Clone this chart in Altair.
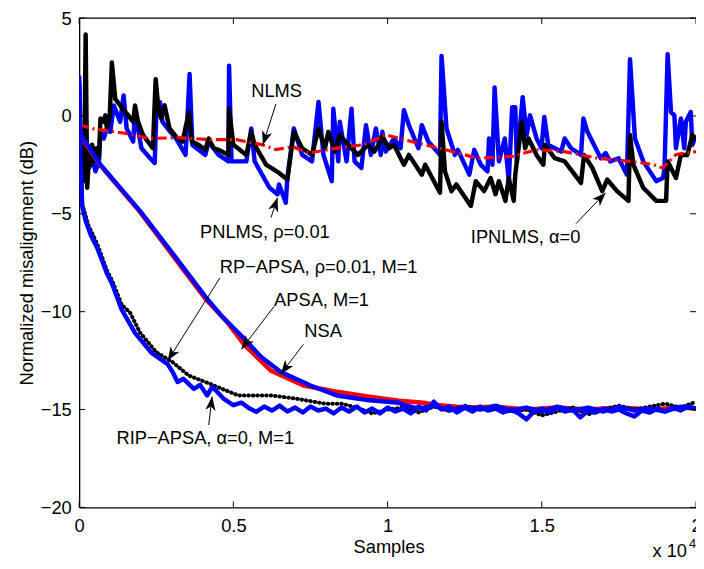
import math
import altair as alt
import pandas as pd

FONT = "Liberation Sans"
X_TICKS = [0, 0.5, 1, 1.5, 2]
Y_TICKS = [5, 0, -5, -10, -15, -20]

# (samples x 1e4, dB)
NLMS = [(0, -0.45), (0.048, -0.66), (0.159, -0.91), (0.229, -1.15), (0.319, -1.11), (0.431, -1.21),
        (0.510, -1.21), (0.595, -1.48), (0.638, -1.72), (0.692, -1.57), (0.743, -1.9), (0.845, -1.62),
        (0.925, -1.46), (0.994, -0.96), (1.078, -1.31), (1.186, -1.72), (1.292, -2.16), (1.404, -2.07),
        (1.483, -1.72), (1.573, -1.82), (1.680, -2.16), (1.786, -2.32), (1.860, -2.47), (1.892, -2.66),
        (1.935, -1.97), (2.0, -1.82)]

PNLMS = [(0, 2.06), (0.005, -1.82), (0.011, -2.83), (0.021, -2.32), (0.032, -2.66), (0.042, -2.16),
         (0.053, -2.83), (0.064, -2.32), (0.069, -0.81), (0.080, -1.15), (0.090, -0.64), (0.101, -0.81),
         (0.112, 0.54), (0.133, -0.3), (0.144, 1.05), (0.154, -0.64), (0.175, -1.31), (0.181, 0.2),
         (0.202, -1.65), (0.239, -2.32), (0.245, -2.4), (0.250, 0.1), (0.262, 0.71), (0.270, -0.3),
         (0.287, -0.64), (0.314, -1.15), (0.345, -1.99), (0.358, 2.14), (0.367, -1.48), (0.409, -1.99),
         (0.420, -1.31), (0.452, -1.99), (0.484, -2.32), (0.486, 2.56), (0.494, -2.32), (0.542, -2.32),
         (0.558, -0.64), (0.569, -2.32), (0.617, -3.67), (0.643, -4.0), (0.648, -3.5), (0.670, -4.43),
         (0.675, -3.17), (0.696, -0.64), (0.723, -1.99), (0.755, -2.32), (0.776, 0.71), (0.792, -1.99),
         (0.819, -3.33), (0.824, 0.37), (0.840, -2.32), (0.845, -0.3), (0.867, -2.32), (0.883, 0.37),
         (0.893, -2.32), (0.915, -2.66), (0.930, -0.47), (0.946, -1.99), (0.962, -0.64), (0.978, -1.99),
         (0.983, -0.81), (0.994, -1.82), (1.021, -1.15), (1.042, -1.65), (1.053, 0.29), (1.069, -0.47),
         (1.100, -1.65), (1.111, -0.47), (1.132, -1.31), (1.170, -1.99), (1.175, 3.07), (1.191, -0.64),
         (1.218, -1.99), (1.228, -1.73), (1.265, -3.0), (1.281, -1.73), (1.302, -2.49), (1.324, -2.83),
         (1.329, -1.15), (1.340, -2.49), (1.347, 1.46), (1.361, -2.32), (1.380, -1.15), (1.393, -3.33),
         (1.404, 0.45), (1.414, 0.45), (1.419, -2.32), (1.438, 0.96), (1.451, -0.97), (1.462, 0.03),
         (1.483, -1.15), (1.499, -1.65), (1.508, -0.05), (1.521, -1.48), (1.563, -1.82), (1.574, -1.15),
         (1.595, -1.65), (1.627, -1.99), (1.635, -0.13), (1.648, -0.81), (1.691, -2.16), (1.707, -1.9),
         (1.722, -2.32), (1.749, -2.16), (1.776, -3.0), (1.786, 2.9), (1.802, -1.15), (1.829, -2.32),
         (1.871, -3.33), (1.893, -3.17), (1.898, -2.66), (1.908, 3.15), (1.919, 0.2), (1.930, 0.03),
         (1.935, -1.65), (1.951, -0.13), (1.962, -1.65), (1.967, -0.3), (1.983, 0.2), (1.988, -1.48),
         (2.0, -1.0)]

IPNLMS = [(0, -0.45), (0.003, -0.64), (0.006, -4.34), (0.011, -2.0), (0.016, -3.33), (0.021, 4.16),
          (0.026, -3.67), (0.032, -2.0), (0.037, -2.5), (0.042, -1.47), (0.050, -2.3), (0.056, -1.65),
          (0.064, -2.15), (0.069, -0.13), (0.080, -0.3), (0.085, 0.03), (0.090, -0.64), (0.099, -0.05),
          (0.106, 2.73), (0.117, 0.87), (0.133, 0.54), (0.144, 0.29), (0.159, 0.03), (0.175, -0.3),
          (0.181, 0.54), (0.191, -0.3), (0.207, -0.97), (0.223, -1.31), (0.239, -1.65), (0.248, 1.88),
          (0.258, 0.2), (0.266, -0.13), (0.277, 0.54), (0.293, -0.64), (0.314, -1.06), (0.335, -1.31),
          (0.356, 0.2), (0.365, -1.31), (0.388, -1.48), (0.409, -1.73), (0.420, -1.15), (0.436, -1.65),
          (0.452, -1.73), (0.484, -1.99), (0.486, 0.37), (0.500, -1.47), (0.542, -1.99), (0.558, -0.81),
          (0.569, -1.48), (0.606, -2.49), (0.648, -2.91), (0.675, -3.25), (0.680, -2.66), (0.696, -0.81),
          (0.723, -1.65), (0.755, -1.99), (0.776, -0.64), (0.797, -1.65), (0.808, -0.81), (0.829, -1.82),
          (0.845, -0.97), (0.872, -1.48), (0.904, -1.99), (0.936, -1.48), (0.957, -1.82), (0.978, -1.31),
          (0.983, -1.06), (1.005, -1.65), (1.021, -1.48), (1.053, -2.49), (1.069, -1.99), (1.111, -3.0),
          (1.122, -2.49), (1.170, -3.92), (1.175, -0.3), (1.186, -2.83), (1.207, -3.84), (1.223, -3.5),
          (1.270, -4.6), (1.286, -3.33), (1.313, -3.84), (1.334, -3.17), (1.350, -4.0), (1.361, -3.33),
          (1.382, -4.34), (1.393, -3.17), (1.409, -4.34), (1.414, -3.0), (1.435, -0.3), (1.446, -1.65),
          (1.457, -1.15), (1.483, -1.99), (1.505, -2.49), (1.510, -1.48), (1.542, -2.16), (1.574, -2.32),
          (1.627, -3.42), (1.637, -1.99), (1.664, -2.66), (1.696, -3.84), (1.712, -3.25), (1.744, -3.84),
          (1.781, -4.34), (1.786, -0.97), (1.797, -2.49), (1.829, -3.67), (1.871, -4.34), (1.903, -4.34),
          (1.908, -2.32), (1.935, -3.17), (1.951, -1.99), (1.972, -1.99), (1.988, -0.97), (2.0, -1.2)]

NSA = [(0, -0.45), (0.006, -1.06), (0.069, -2.53), (0.197, -4.9), (0.303, -7.12), (0.409, -9.34),
       (0.478, -10.5), (0.537, -11.72), (0.622, -13.02), (0.727, -13.77), (0.835, -14.09), (0.941, -14.34),
       (1.037, -14.55), (1.116, -14.65), (1.15, -14.75), (1.25, -14.9), (1.35, -14.85), (1.45, -15.0),
       (1.55, -14.9), (1.65, -15.0), (1.75, -14.9), (1.85, -15.0), (1.95, -14.9), (2.0, -14.95)]

APSA = [(0, 0.0), (0.005, -0.96), (0.069, -2.49), (0.197, -4.85), (0.303, -7.02), (0.409, -9.23),
        (0.463, -10.24), (0.537, -11.41), (0.590, -12.32), (0.654, -13.08), (0.750, -13.77), (0.835, -14.28),
        (0.941, -14.53), (1.037, -14.65), (1.05, -14.75), (1.10, -14.95), (1.15, -14.80), (1.20, -15.05),
        (1.25, -14.85), (1.30, -15.00), (1.35, -14.80), (1.40, -15.05), (1.45, -14.90), (1.50, -15.10),
        (1.55, -14.85), (1.60, -15.05), (1.65, -14.90), (1.70, -15.10), (1.75, -14.85), (1.80, -15.05),
        (1.85, -14.95), (1.90, -15.10), (1.95, -14.85), (2.00, -14.95)]

RP_APSA = [(0, 0.5), (0.005, -3.0), (0.010, -4.5), (0.030, -5.6), (0.060, -6.6), (0.090, -7.9),
           (0.106, -8.38), (0.138, -9.65), (0.165, -10.05), (0.197, -11.06), (0.250, -12.07), (0.303, -12.58),
           (0.356, -13.27), (0.409, -13.59), (0.463, -13.94), (0.516, -14.28), (0.569, -14.28), (0.622, -14.28),
           (0.702, -14.44), (0.797, -14.7), (0.85, -14.7), (0.90, -14.9), (0.95, -15.2), (1.00, -15.0),
           (1.05, -14.9), (1.10, -15.15), (1.15, -14.85), (1.20, -15.05), (1.25, -14.8), (1.30, -15.0),
           (1.35, -14.9), (1.40, -15.1), (1.45, -15.0), (1.50, -15.3), (1.55, -15.1), (1.60, -14.9),
           (1.65, -15.25), (1.70, -15.0), (1.75, -14.8), (1.80, -15.0), (1.85, -14.85), (1.90, -14.7),
           (1.95, -14.9), (2.00, -14.6)]

RIP_APSA = [(0, 1.72), (0.003, -1.82), (0.010, -4.6), (0.021, -5.35), (0.038, -6.1), (0.058, -6.72),
            (0.074, -7.37), (0.090, -8.05), (0.106, -8.55), (0.138, -9.9), (0.181, -11.08), (0.234, -12.09),
            (0.287, -12.68), (0.303, -13.08), (0.319, -13.59), (0.338, -13.43), (0.372, -13.94), (0.392, -13.74),
            (0.415, -14.28), (0.431, -13.84), (0.447, -14.09), (0.468, -14.44), (0.500, -14.78), (0.526, -14.65),
            (0.553, -14.95), (0.574, -15.12), (0.600, -14.85), (0.625, -15.05), (0.650, -14.80), (0.675, -15.10),
            (0.700, -14.90), (0.725, -15.15), (0.750, -14.85), (0.775, -15.05), (0.800, -14.95), (0.825, -15.20),
            (0.850, -14.90), (0.875, -15.10), (0.900, -14.85), (0.925, -15.15), (0.950, -14.95), (0.975, -15.20),
            (1.000, -14.90), (1.025, -15.10), (1.050, -14.95), (1.075, -15.20), (1.100, -14.85), (1.125, -15.05),
            (1.150, -14.60), (1.175, -15.00), (1.200, -14.85), (1.225, -15.15), (1.250, -14.90), (1.275, -15.10),
            (1.300, -14.85), (1.325, -15.05), (1.350, -14.95), (1.375, -15.15), (1.400, -15.00), (1.425, -15.20),
            (1.450, -15.50), (1.475, -15.10), (1.500, -14.95), (1.525, -15.15), (1.550, -14.90), (1.575, -15.10),
            (1.600, -15.00), (1.625, -15.40), (1.650, -15.05), (1.675, -15.15), (1.700, -14.95), (1.725, -15.10),
            (1.750, -15.00), (1.775, -15.20), (1.800, -15.35), (1.825, -15.05), (1.850, -15.15), (1.875, -14.95),
            (1.900, -15.10), (1.925, -14.90), (1.950, -15.05), (1.975, -14.85), (2.000, -14.95)]

# annotations (data coordinates)
ANNOT_TEXT = ["NLMS", "PNLMS, ρ=0.01", "RP−APSA, ρ=0.01, M=1", "APSA, M=1", "NSA",
              "RIP−APSA, α=0, M=1", "IPNLMS, α=0"]
ANNOT_X = [0.558, 0.392, 0.456, 0.632, 0.730, 0.121, 1.270]
ANNOT_Y = [1.26, -5.94, -7.71, -9.39, -11.0, -16.46, -6.2]
TAIL_X = [0.638, 0.622, 0.456, 0.632, 0.727, 0.420, 1.611]
TAIL_Y = [0.62, -5.19, -8.28, -9.73, -11.67, -15.79, -5.5]
TIP_X = [0.5955, 0.643, 0.287, 0.526, 0.654, 0.431, 1.707]
TIP_Y = [-1.48, -4.18, -12.51, -11.92, -13.18, -14.34, -3.92]

W, H = 624, 495
X_SCALE = alt.Scale(domain=[0, 2], nice=False, zero=False)
Y_SCALE = alt.Scale(domain=[-20, 5], nice=False, zero=False)

AX_COMMON = dict(ticks=False, tickSize=0, grid=False, domainColor="black", domainWidth=1.3,
                 labelFont=FONT, labelFontSize=18.5, labelColor="black", labelFlush=False,
                 labelOverlap=False, titleFont=FONT, titleFontSize=18.5, titleFontWeight="normal",
                 titleColor="black", format="~g")
X_AXIS = alt.Axis(values=X_TICKS, title="Samples", labelPadding=9, titleX=313, titleY=46,
                  titleBaseline="alphabetic", titleAlign="center", **AX_COMMON)
Y_AXIS = alt.Axis(values=Y_TICKS, title="Normalized misalignment (dB)", labelPadding=8,
                  titleX=-47, titleY=H / 2, titleAngle=270, titleBaseline="alphabetic",
                  titleAlign="center", **AX_COMMON)


def X(field):
    return alt.X(field, scale=X_SCALE, axis=X_AXIS)


def Y(field):
    return alt.Y(field, scale=Y_SCALE, axis=Y_AXIS)


def frame(pairs):
    return pd.DataFrame({"x": [p[0] for p in pairs], "y": [p[1] for p in pairs],
                         "i": list(range(len(pairs)))})


def line(pairs, color, width, dash=None, cap="butt"):
    kw = dict(color=color, strokeWidth=width, strokeCap=cap, strokeJoin="round", clip=True)
    if dash:
        kw["strokeDash"] = dash
    return alt.Chart(frame(pairs)).mark_line(**kw).encode(
        x=X("x:Q"), y=Y("y:Q"), order=alt.Order("i:Q"))


BLUE, RED, BLACK = "#0000ff", "#ff0000", "#000000"
LW = 4.5
layers = [
    line(PNLMS, BLUE, LW),
    line(IPNLMS, BLACK, LW),
    line(NLMS, RED, 3.2, dash=[10, 4, 2, 4]),
    line(NSA, RED, LW),
    line(RP_APSA, BLACK, 4, dash=[0.5, 4], cap="round"),
    line(APSA, BLUE, LW),
    line(RIP_APSA, BLUE, LW),
]

# frame ticks (inward) and top border
xt = pd.DataFrame({"t": X_TICKS})
yt = pd.DataFrame({"t": Y_TICKS})
tick = dict(color="black", strokeWidth=1)
layers += [
    alt.Chart(xt).mark_rule(**tick).encode(x=X("t:Q"), y=alt.value(H), y2=alt.value(H - 6)),
    alt.Chart(xt).mark_rule(**tick).encode(x=X("t:Q"), y=alt.value(0), y2=alt.value(6)),
    alt.Chart(yt).mark_rule(**tick).encode(y=Y("t:Q"), x=alt.value(0), x2=alt.value(6)),
    alt.Chart(yt).mark_rule(**tick).encode(y=Y("t:Q"), x=alt.value(W), x2=alt.value(W - 6)),
    alt.Chart(pd.DataFrame({"t": [0]})).mark_rule(color="black", strokeWidth=1.3).encode(
        x=alt.value(0), x2=alt.value(W), y=alt.value(0)),
]

# annotations with arrows
px_x, px_y = W / 2.0, H / 25.0
angles = []
for x1, y1, x2, y2 in zip(TAIL_X, TAIL_Y, TIP_X, TIP_Y):
    dx = (x2 - x1) * px_x
    dy = -(y2 - y1) * px_y
    angles.append(math.degrees(math.atan2(dx, -dy)) % 360)

ann = pd.DataFrame({"text": ANNOT_TEXT, "x": ANNOT_X, "y": ANNOT_Y})
arr = pd.DataFrame({"x1": TAIL_X, "y1": TAIL_Y, "x2": TIP_X, "y2": TIP_Y, "angle": angles})
ARROW_PATH = "M0,0 L0.75,2 L0,1.45 L-0.75,2 Z"
layers += [
    alt.Chart(arr).mark_rule(color="black", strokeWidth=1).encode(
        x=X("x1:Q"), y=Y("y1:Q"), x2="x2:Q", y2="y2:Q"),
    alt.Chart(arr).mark_point(shape=ARROW_PATH, filled=True, size=196, color="black",
                              opacity=1, strokeWidth=0).encode(
        x=X("x2:Q"), y=Y("y2:Q"), angle=alt.Angle("angle:Q", scale=None)),
    alt.Chart(ann).mark_text(font=FONT, fontSize=18.5, color="black", align="left",
                             baseline="middle").encode(
        x=X("x:Q"), y=Y("y:Q"), text="text:N"),
    alt.Chart(pd.DataFrame({"t": ["x 10"]})).mark_text(
        font=FONT, fontSize=18.5, color="black", align="left", baseline="alphabetic").encode(
        x=alt.value(580), y=alt.value(H + 50), text="t:N"),
    alt.Chart(pd.DataFrame({"t": ["4"]})).mark_text(
        font=FONT, fontSize=13, color="black", align="left", baseline="alphabetic").encode(
        x=alt.value(617), y=alt.value(H + 41), text="t:N"),
]

chart = alt.layer(*layers).properties(
    width=W, height=H,
    autosize=alt.AutoSizeParams(type="none"),
    padding={"left": 72, "top": 7, "right": 0, "bottom": 50},
).configure_view(stroke=None)

chart.save("out.html", embed_options={"renderer": "svg", "actions": False})
